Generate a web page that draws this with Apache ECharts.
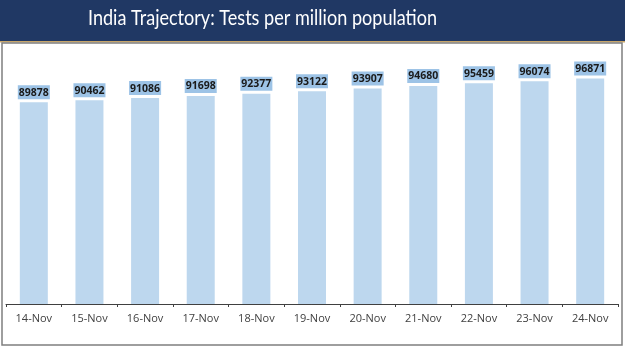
<!DOCTYPE html>
<html>
<head>
<meta charset="utf-8">
<script src="https://cdn.jsdelivr.net/npm/echarts@6/dist/echarts.min.js"></script>
<style>
html,body{margin:0;padding:0;background:#fff;}
#chart{width:625px;height:351px;}
</style>
</head>
<body>
<div id="chart"></div>
<script>
const categories = ['14-Nov','15-Nov','16-Nov','17-Nov','18-Nov','19-Nov','20-Nov','21-Nov','22-Nov','23-Nov','24-Nov'];
const testsPerMillion = [89878, 90462, 91086, 91698, 92377, 93122, 93907, 94680, 95459, 96074, 96871];
const titleText = 'India Trajectory: Tests per million population';

const chart = echarts.init(document.getElementById('chart'), null, {renderer:'canvas'});
chart.setOption({
  animation: false,
  backgroundColor: '#ffffff',
  graphic: [
    {type:'rect', shape:{x:0,y:0,width:625,height:41}, style:{fill:'#203864'}, z:0},
    {type:'rect', shape:{x:0,y:41,width:625,height:1.5}, style:{fill:'#C8A66A'}, z:0},
    {type:'rect', shape:{x:2,y:43,width:620,height:302}, style:{fill:'none', stroke:'#7F7F7F', lineWidth:1.5}, z:0},
    {type:'text', x:88, y:8, scaleX:0.86, scaleY:1, originX:0, originY:0,
     style:{text:titleText, fill:'#ffffff', font:'21px Lato', textVerticalAlign:'top'}, z:10}
  ],
  grid: {left:6, right:7, top:68, bottom:47},
  xAxis: {
    type:'category',
    data: categories,
    axisLine: {lineStyle:{color:'#404040', width:1}},
    axisTick: {show:true, length:3, lineStyle:{color:'#404040'}},
    axisLabel: {color:'#404040', fontSize:11, fontFamily:'Open Sans', margin:9}
  },
  yAxis: {
    type:'value', min:30000, max:100000, show:false, splitLine:{show:false}
  },
  series: [{
    type:'bar',
    data: testsPerMillion,
    barWidth: 28,
    itemStyle: {color:'#BDD7EE'},
    label: {
      show:true, position:'top', distance:3,
      backgroundColor:'#9DC3E6', padding:[2,1,1,1],
      color:'#1a1a1a', fontWeight:'bold', fontSize:10.5, fontFamily:'Open Sans'
    }
  }]
});
</script>
</body>
</html>
